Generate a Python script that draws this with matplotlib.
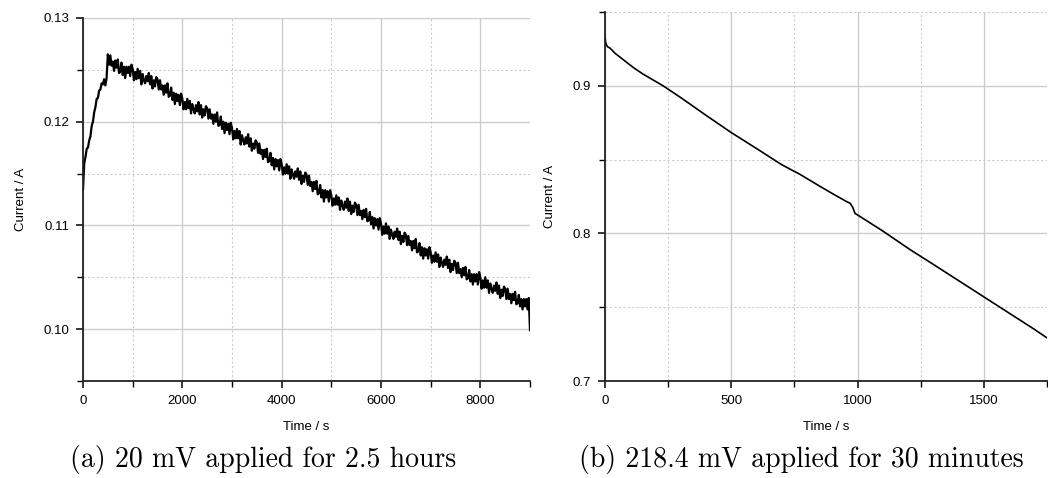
import numpy as np
import matplotlib
matplotlib.use('Agg')
import matplotlib.pyplot as plt
from matplotlib.ticker import MultipleLocator, FormatStrFormatter

# (a) 20 mV, one reading every 25 s from 0 to 9000 s, current in mA
T_A_STEP = 25
CURRENT_A_MA = [
    113.5, 116.0, 116.6, 117.4, 117.5, 118.2, 118.6, 119.6, 120.0, 120.9,
    121.4, 122.2, 122.3, 123.0, 123.1, 123.7, 123.6, 124.1, 123.5, 124.2,
    126.5, 125.5, 126.4, 125.4, 125.8, 124.9, 125.9, 125.2, 126.0, 124.7,
    124.8, 125.7, 124.5, 125.3, 124.2, 125.3, 124.7, 125.3, 124.4, 125.5,
    125.1, 124.0, 124.8, 124.1, 125.1, 124.2, 124.9, 123.6, 124.6, 124.0,
    123.7, 124.4, 123.9, 124.7, 123.6, 124.4, 123.2, 124.0, 123.4, 124.3,
    124.1, 123.1, 124.0, 123.1, 123.5, 122.6, 123.5, 122.8, 123.7, 122.4,
    122.5, 123.3, 122.1, 122.8, 121.7, 122.7, 122.0, 122.6, 121.6, 122.7,
    122.2, 121.2, 121.9, 121.2, 122.2, 121.3, 122.0, 120.8, 121.7, 121.2,
    120.8, 121.6, 121.0, 121.9, 120.7, 121.6, 120.4, 121.2, 120.6, 121.5,
    121.3, 120.3, 121.2, 120.3, 120.7, 119.8, 120.7, 120.0, 120.9, 119.6,
    119.7, 120.5, 119.3, 120.0, 118.9, 119.9, 119.2, 119.8, 118.8, 119.9,
    119.4, 118.3, 119.1, 118.4, 119.3, 118.4, 119.1, 117.8, 118.7, 118.2,
    117.8, 118.5, 117.9, 118.8, 117.6, 118.4, 117.2, 117.9, 117.4, 118.2,
    118.0, 117.0, 117.9, 116.9, 117.3, 116.4, 117.3, 116.6, 117.4, 116.1,
    116.2, 117.0, 115.8, 116.5, 115.4, 116.4, 115.7, 116.3, 115.3, 116.4,
    115.9, 114.9, 115.6, 115.0, 115.9, 115.0, 115.7, 114.5, 115.4, 114.9,
    114.5, 115.2, 114.7, 115.5, 114.4, 115.2, 114.0, 114.8, 114.2, 115.1,
    114.9, 113.9, 114.8, 113.8, 114.2, 113.3, 114.2, 113.5, 114.3, 113.0,
    113.1, 113.9, 112.7, 113.4, 112.3, 113.4, 112.7, 113.3, 112.3, 113.4,
    112.9, 111.9, 112.6, 112.0, 112.9, 112.0, 112.7, 111.5, 112.4, 111.9,
    111.5, 112.3, 111.7, 112.6, 111.4, 112.3, 111.1, 111.9, 111.3, 112.2,
    112.0, 111.0, 112.0, 111.0, 111.4, 110.6, 111.5, 110.8, 111.6, 110.4,
    110.5, 111.3, 110.1, 110.8, 109.7, 110.7, 110.0, 110.6, 109.6, 110.7,
    110.2, 109.1, 109.9, 109.2, 110.2, 109.2, 109.9, 108.7, 109.6, 109.1,
    108.7, 109.4, 108.9, 109.7, 108.6, 109.4, 108.2, 109.0, 108.4, 109.3,
    109.1, 108.1, 109.0, 108.1, 108.5, 107.6, 108.5, 107.8, 108.7, 107.4,
    107.5, 108.3, 107.1, 107.9, 106.8, 107.8, 107.1, 107.7, 106.8, 107.9,
    107.4, 106.4, 107.1, 106.5, 107.4, 106.5, 107.2, 106.0, 106.9, 106.4,
    106.0, 106.7, 106.2, 107.0, 105.9, 106.7, 105.5, 106.3, 105.7, 106.6,
    106.4, 105.4, 106.4, 105.4, 105.8, 105.0, 105.9, 105.2, 106.0, 104.8,
    104.9, 105.7, 104.6, 105.3, 104.3, 105.3, 104.6, 105.3, 104.3, 105.5,
    105.0, 103.9, 104.7, 104.0, 105.0, 104.0, 104.7, 103.5, 104.4, 103.9,
    103.5, 104.2, 103.7, 104.5, 103.4, 104.2, 103.0, 103.8, 103.2, 104.1,
    103.9, 102.9, 103.9, 102.9, 103.4, 102.5, 103.4, 102.8, 103.6, 102.4,
    102.5, 103.3, 102.2, 102.9, 101.9, 102.9, 102.2, 102.9, 101.9, 103.0,
    99.9,
]

# (b) 218.4 mV
TIME_B = [0, 2, 5, 10, 20, 40, 70, 112, 150, 200, 230, 300, 400, 500, 600, 700,
          772, 850, 900, 957, 970, 980, 990, 1000, 1100, 1207, 1300, 1400, 1500,
          1600, 1700, 1750]
CURRENT_B = [0.934, 0.930, 0.928, 0.9265, 0.9255, 0.922, 0.918, 0.9124, 0.908,
             0.903, 0.900, 0.892, 0.880, 0.8683, 0.8575, 0.8465, 0.8400, 0.832,
             0.8270, 0.8215, 0.8205, 0.8180, 0.8135, 0.8125, 0.8016, 0.7891,
             0.7790, 0.7680, 0.7570, 0.7460, 0.7350, 0.7292]

CAPTIONS = ['(a) 20 mV applied for 2.5 hours', '(b) 218.4 mV applied for 30 minutes']

plt.rcParams['font.family'] = ['Liberation Sans', 'DejaVu Sans']

W, H = 1048, 478
fig = plt.figure(figsize=(W / 100, H / 100), dpi=100)

ax1 = fig.add_axes([83 / W, (H - 381) / H, 447 / W, 363 / H])
ax2 = fig.add_axes([605 / W, (H - 381) / H, 442 / W, 369 / H])


def style(ax):
    for s in ['top', 'right']:
        ax.spines[s].set_visible(False)
    for s in ['left', 'bottom']:
        ax.spines[s].set_linewidth(1.3)
        ax.spines[s].set_color('#222222')
    ax.grid(which='major', color='#cccccc', linewidth=1.0, linestyle='-')
    ax.grid(which='minor', color='#cccccc', linewidth=0.8, linestyle=(0, (2, 2)))
    ax.set_axisbelow(True)
    ax.tick_params(which='major', direction='out', length=5, width=1.1, labelsize=9.5, pad=5)
    ax.tick_params(which='minor', direction='out', length=4, width=1.0)
    ax.set_xlabel('Time / s', fontsize=9.5, labelpad=10)
    ax.set_ylabel('Current / A', fontsize=9.5, labelpad=12)


t_a = np.arange(len(CURRENT_A_MA)) * T_A_STEP
ax1.plot(t_a, np.array(CURRENT_A_MA) / 1000, color='black', linewidth=1.6)
ax1.set_xlim(0, 9000)
ax1.set_ylim(0.095, 0.13)
ax1.xaxis.set_major_locator(MultipleLocator(2000))
ax1.xaxis.set_minor_locator(MultipleLocator(1000))
ax1.yaxis.set_major_locator(MultipleLocator(0.01))
ax1.yaxis.set_minor_locator(MultipleLocator(0.005))
ax1.yaxis.set_major_formatter(FormatStrFormatter('%.2f'))
style(ax1)

ax2.plot(TIME_B, CURRENT_B, color='black', linewidth=1.2)
ax2.set_xlim(0, 1750)
ax2.set_ylim(0.7, 0.95)
ax2.xaxis.set_major_locator(MultipleLocator(500))
ax2.xaxis.set_minor_locator(MultipleLocator(250))
ax2.yaxis.set_major_locator(MultipleLocator(0.1))
ax2.yaxis.set_minor_locator(MultipleLocator(0.05))
ax2.yaxis.set_major_formatter(FormatStrFormatter('%.1f'))
style(ax2)

fig.text(263 / W, 1 - 460 / H, CAPTIONS[0], ha='center', va='center',
         fontsize=20, family='cmr10')
fig.text(801 / W, 1 - 460 / H, CAPTIONS[1], ha='center', va='center',
         fontsize=20, family='cmr10')

fig.savefig('out.png', dpi=100)
